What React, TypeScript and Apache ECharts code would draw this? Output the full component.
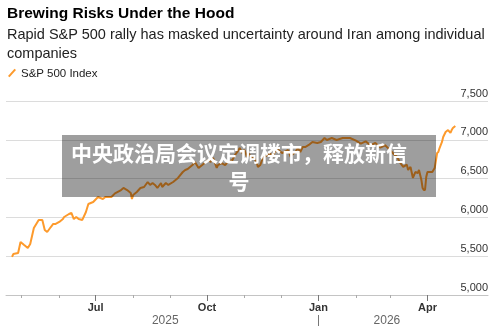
import React, { useEffect, useRef } from "react";
import * as echarts from "echarts";

const titleText = "Brewing Risks Under the Hood";
const subtitleText = "Rapid S&P 500 rally has masked uncertainty around Iran among individual\ncompanies";
const seriesName = "S&P 500 Index";
const bannerText = "中央政治局会议定调楼市，释放新信\n号";

const dates: string[] = [
  "2025-04-23","2025-04-24","2025-04-28","2025-04-30","2025-05-03","2025-05-06","2025-05-08","2025-05-11",
  "2025-05-14","2025-05-15","2025-05-18","2025-05-20","2025-05-22","2025-05-25","2025-05-27","2025-05-29",
  "2025-06-01","2025-06-04","2025-06-05","2025-06-09","2025-06-11","2025-06-13","2025-06-15","2025-06-17",
  "2025-06-20","2025-06-23","2025-06-25","2025-06-29","2025-07-03","2025-07-05","2025-07-07","2025-07-09",
  "2025-07-14","2025-07-17","2025-07-22","2025-07-24","2025-07-27","2025-07-30","2025-07-31","2025-08-01",
  "2025-08-04","2025-08-07","2025-08-10","2025-08-13","2025-08-15","2025-08-17","2025-08-19","2025-08-21",
  "2025-08-24","2025-08-25","2025-08-28","2025-08-30","2025-09-03","2025-09-05","2025-09-07","2025-09-11",
  "2025-09-13","2025-09-15","2025-09-19","2025-09-21","2025-09-24","2025-09-27","2025-09-30","2025-10-02",
  "2025-10-04","2025-10-06","2025-10-09","2025-10-10","2025-10-13","2025-10-16","2025-10-18","2025-10-22",
  "2025-10-24","2025-10-26","2025-10-28","2025-10-30","2025-11-01","2025-11-03","2025-11-04","2025-11-07",
  "2025-11-08","2025-11-11","2025-11-12","2025-11-14","2025-11-16","2025-11-20","2025-11-22","2025-11-24",
  "2025-11-26","2025-11-29","2025-12-02","2025-12-04","2025-12-07","2025-12-09","2025-12-10","2025-12-13",
  "2025-12-15","2025-12-17","2025-12-19","2025-12-21","2025-12-24","2025-12-27","2025-12-31","2026-01-03",
  "2026-01-06","2026-01-08","2026-01-12","2026-01-16","2026-01-21","2026-01-27","2026-02-01","2026-02-05",
  "2026-02-09","2026-02-13","2026-02-17","2026-02-21","2026-02-25","2026-03-01","2026-03-04","2026-03-07",
  "2026-03-09","2026-03-12","2026-03-15","2026-03-16","2026-03-18","2026-03-20","2026-03-22","2026-03-24",
  "2026-03-25","2026-03-27","2026-03-28","2026-03-29","2026-03-30","2026-03-31","2026-04-01","2026-04-05",
  "2026-04-07","2026-04-09","2026-04-10","2026-04-11","2026-04-13","2026-04-14","2026-04-16","2026-04-18",
  "2026-04-20","2026-04-21","2026-04-22","2026-04-24"
];

const values: number[] = [
  5490,5528,5541,5683,5644,5606,5657,5863,
  5941,5967,5967,5838,5812,5876,5915,5915,
  5941,5979,6005,6044,6057,5979,6005,5979,
  5967,6070,6173,6198,6263,6250,6237,6263,
  6263,6310,6353,6379,6353,6314,6237,6289,
  6327,6379,6392,6456,6418,6443,6418,6379,
  6443,6392,6443,6418,6456,6482,6508,6585,
  6611,6624,6675,6714,6637,6675,6714,6740,
  6714,6766,6637,6675,6701,6675,6714,6740,
  6804,6843,6894,6830,6869,6778,6830,6766,
  6778,6714,6650,6675,6766,6804,6830,6778,
  6843,6869,6830,6843,6869,6778,6804,6843,
  6894,6843,6907,6907,6933,6972,6959,6972,
  7023,6998,7023,6998,7023,7023,6990,6950,
  6980,6930,6960,6900,6930,6870,6820,6778,
  6714,6650,6680,6611,6650,6508,6585,6572,
  6611,6482,6379,6353,6353,6521,6585,6585,
  6637,6830,6843,6894,6972,7036,7101,7126,
  7088,7126,7152,7178
];

const axisStart = "2025-04-18";
const axisEnd = "2026-05-21";
const monthTicks: string[] = [
  "2025-05-01","2025-06-01","2025-07-01","2025-08-01","2025-09-01","2025-10-01",
  "2025-11-01","2025-12-01","2026-01-01","2026-02-01","2026-03-01","2026-04-01"
];
const quarterTicks: string[] = ["2025-07-01","2025-10-01","2026-01-01","2026-04-01"];
const monthNames = ["Jan","Feb","Mar","Apr","May","Jun","Jul","Aug","Sep","Oct","Nov","Dec"];
const yearBreak = "2026-01-01";
const yMin = 5000;
const yMax = 7500;
const yInterval = 500;

const ts = (s: string) => new Date(s + "T00:00:00").getTime();

const FONT = '"Liberation Sans", Arial, sans-serif';

export default function App() {
  const ref = useRef<HTMLDivElement>(null);
  useEffect(() => {
    if (!ref.current) return;
    const chart = echarts.init(ref.current, undefined, { renderer: "svg" });
    const data = dates.map((d, i) => [ts(d), values[i]]);
    const firstTs = ts(dates[0]);
    const lastTs = ts(dates[dates.length - 1]);
    const breakTs = ts(yearBreak);
    const yearMids = [(firstTs + breakTs) / 2, (breakTs + lastTs) / 2];
    const min = ts(axisStart);
    const max = ts(axisEnd);

    chart.setOption({
      animation: false,
      textStyle: { fontFamily: FONT },
      title: [
        {
          text: titleText,
          left: 7,
          top: 4,
          padding: 0,
          textStyle: { fontFamily: FONT, fontSize: 15.5, fontWeight: "bold", color: "#000", lineHeight: 16 },
        },
        {
          text: subtitleText,
          left: 7,
          top: 24,
          padding: 0,
          textStyle: { fontFamily: FONT, fontSize: 14.5, fontWeight: "normal", color: "#222", lineHeight: 19 },
        },
      ],
      legend: {
        left: 8,
        top: 67,
        padding: 0,
        itemWidth: 8,
        itemHeight: 9,
        data: [
          {
            name: seriesName,
            icon: "path://M0,8 L7,0 L8.6,1.4 L1.6,9.4 Z",
          },
        ],
        textStyle: { fontFamily: FONT, fontSize: 11.5, color: "#222" },
      },
      grid: { left: 6, right: 12, top: 101, bottom: 37, containLabel: false },
      xAxis: [
        {
          type: "value",
          min,
          max,
          axisLine: { show: true, lineStyle: { color: "#c4c4c4", width: 1 } },
          axisTick: { show: true, customValues: monthTicks.map(ts), length: 3, lineStyle: { color: "#aaa" } },
          axisLabel: { show: false },
          splitLine: { show: false },
        },
        {
          type: "value",
          min,
          max,
          position: "bottom",
          axisLine: { show: false },
          axisTick: { show: true, customValues: quarterTicks.map(ts), length: 6, lineStyle: { color: "#777" } },
          axisLabel: {
            show: true,
            customValues: quarterTicks.map(ts),
            formatter: (v: number) => monthNames[new Date(v).getMonth()],
            margin: 6,
            fontSize: 11,
            fontFamily: FONT,
            fontWeight: "bold",
            color: "#333",
          },
          splitLine: { show: false },
        },
        {
          type: "value",
          min,
          max,
          position: "bottom",
          offset: 20,
          axisLine: { show: false },
          axisTick: { show: true, customValues: [breakTs], length: 11, lineStyle: { color: "#777" } },
          axisLabel: {
            show: true,
            customValues: yearMids,
            formatter: (v: number) => String(new Date(v).getFullYear()),
            margin: -1,
            fontSize: 12,
            fontFamily: FONT,
            color: "#666",
          },
          splitLine: { show: false },
        },
      ],
      yAxis: {
        type: "value",
        position: "right",
        min: yMin,
        max: yMax,
        interval: yInterval,
        axisLine: { show: false },
        axisTick: { show: false },
        axisLabel: {
          inside: true,
          margin: 0,
          verticalAlign: "bottom",
          padding: [0, 0, 3, 0],
          fontSize: 11,
          fontFamily: FONT,
          color: "#333",
          formatter: (v: number) => v.toLocaleString("en-US"),
        },
        splitLine: { show: true, lineStyle: { color: "#dcdcdc", width: 1 } },
      },
      series: [
        {
          name: seriesName,
          type: "line",
          xAxisIndex: 0,
          data,
          showSymbol: false,
          symbol: "none",
          lineStyle: { color: "#fd9a2c", width: 2 },
          itemStyle: { color: "#fd9a2c" },
        },
      ],
      graphic: [
        {
          type: "rect",
          z: 100,
          left: 62,
          top: 135,
          shape: { width: 374, height: 62 },
          style: { fill: "rgba(0,0,0,0.38)" },
        },
        {
          type: "text",
          z: 101,
          x: 239,
          y: 137.5,
          style: {
            text: bannerText,
            fill: "#fff",
            fontSize: 21,
            fontWeight: "bold",
            fontFamily: '"Noto Sans CJK SC", sans-serif',
            align: "center",
            verticalAlign: "top",
            lineHeight: 28,
          },
        },
      ],
    });
    return () => chart.dispose();
  }, []);
  return <div ref={ref} style={{ position: "fixed", left: 0, top: 0, width: 500, height: 332 }} />;
}
